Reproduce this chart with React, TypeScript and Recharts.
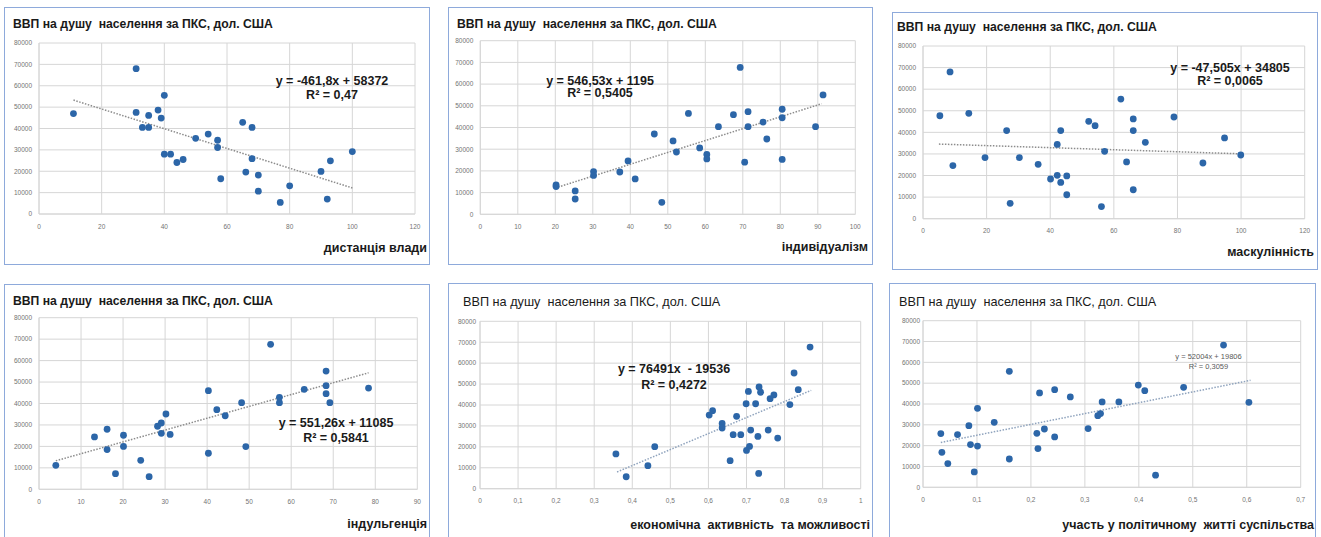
import React from 'react';
import { ScatterChart, Scatter, XAxis, YAxis, CartesianGrid, ReferenceLine } from 'recharts';

// ---------- data ----------
const yTicks = [0, 10000, 20000, 30000, 40000, 50000, 60000, 70000, 80000];
const xTicksPower = [0, 20, 40, 60, 80, 100, 120];
const xTicksIndiv = [0, 10, 20, 30, 40, 50, 60, 70, 80, 90, 100];
const xTicksMasc = [0, 20, 40, 60, 80, 100, 120];
const xTicksIndulg = [0, 10, 20, 30, 40, 50, 60, 70, 80, 90];
const xTicksEcon = [0, 0.1, 0.2, 0.3, 0.4, 0.5, 0.6, 0.7, 0.8, 0.9, 1];
const xTicksPolit = [0, 0.1, 0.2, 0.3, 0.4, 0.5, 0.6, 0.7];

const powerDistance = [
  [11, 47000], [31, 68000], [31, 47500], [33, 40500], [35, 46100], [35, 40500], [38, 48600], [39, 44900],
  [40, 55500], [40, 28000], [42, 28000], [44, 24100], [46, 25500], [50, 35400], [54, 37400], [57, 34500],
  [57, 31100], [58, 16500], [65, 42900], [66, 19600], [68, 40500], [68, 25900], [70, 18200], [70, 10700],
  [77, 5400], [80, 13200], [90, 19900], [92, 7000], [93, 24900], [100, 29200],
];
const individualism = [
  [20.2, 13600], [20.2, 12800], [25.3, 10750], [25.3, 7060], [30.2, 19700], [30.2, 17900], [37.2, 19500],
  [39.4, 24600], [41.3, 16300], [46.4, 37000], [48.4, 5500], [51.4, 33800], [52.3, 28700], [55.5, 46500],
  [58.5, 30600], [60.4, 27600], [60.4, 25500], [63.5, 40400], [67.5, 45900], [69.3, 67700], [70.5, 24000],
  [71.4, 47300], [71.4, 40400], [75.4, 42500], [76.4, 34700], [80.5, 48400], [80.5, 44500], [80.5, 25300],
  [89.4, 40400], [91.4, 55000],
];
const masculinity = [
  [5.3, 47700], [8.5, 68000], [9.4, 24600], [14.4, 48800], [19.5, 28300], [26.3, 40800], [27.4, 7100],
  [30.3, 28300], [36.2, 25200], [40.1, 18400], [42.2, 34400], [42.2, 20100], [43.3, 40800], [43.3, 16800],
  [45.2, 19800], [45.2, 11100], [52.1, 45100], [54.1, 43100], [56.1, 5600], [57.1, 31200], [62.2, 55400],
  [64.0, 26300], [66.1, 46200], [66.1, 40800], [66.1, 13400], [69.9, 35400], [78.9, 47100], [88, 25800],
  [94.8, 37400], [99.9, 29500],
];
const indulgence = [
  [4.0, 11200], [13.2, 24400], [16.2, 28000], [16.2, 18500], [18.2, 7300], [20.1, 25200], [20.1, 20000],
  [24.2, 13500], [26.2, 5900], [28.2, 29400], [29.1, 30900], [29.1, 26100], [30.2, 35100], [31.2, 25600],
  [40.3, 46000], [40.3, 16800], [42.3, 37100], [44.3, 34300], [48.2, 40400], [49.2, 19900], [55.1, 67600],
  [57.2, 42900], [57.2, 40400], [63.1, 46600], [68.3, 55100], [68.3, 48300], [68.3, 44600], [69.2, 40400],
  [78.4, 47200],
];
const economic = [
  [0.357, 16600], [0.384, 5700], [0.441, 11000], [0.459, 20100], [0.602, 35200], [0.611, 37300],
  [0.636, 31200], [0.636, 29000], [0.657, 13400], [0.665, 25800], [0.674, 34600], [0.685, 25800],
  [0.699, 40600], [0.7, 18300], [0.705, 46500], [0.708, 20200], [0.711, 28000], [0.724, 40600],
  [0.73, 25000], [0.732, 7300], [0.733, 48600], [0.737, 46100], [0.757, 28000], [0.762, 43000],
  [0.772, 44800], [0.782, 24200], [0.814, 40200], [0.825, 55300], [0.836, 47300], [0.867, 67700],
];
const political = [
  [0.033, 25800], [0.035, 16800], [0.046, 11400], [0.064, 25300], [0.085, 29600], [0.088, 20500],
  [0.095, 7400], [0.101, 37900], [0.101, 19800], [0.132, 31200], [0.16, 55700], [0.16, 13600],
  [0.211, 25900], [0.213, 18600], [0.216, 45300], [0.225, 28000], [0.244, 46900], [0.244, 24200],
  [0.273, 43400], [0.306, 28200], [0.324, 34400], [0.329, 35400], [0.332, 41000], [0.363, 41000],
  [0.399, 49100], [0.411, 46400], [0.431, 5800], [0.483, 48000], [0.557, 68300], [0.604, 40800],
];

// trend line end points
const trendPower = [[11, 53292], [100, 12192]];
const trendIndiv = [[20, 12126], [91, 50929]];
const trendMasc = [[5, 34567], [100, 30054]];
const trendIndulg = [[4, 13290], [78.4, 54304]];
const trendEcon = [[0.36, 7999], [0.87, 47011]];
const trendPolit = [[0.033, 21522], [0.607, 51372]];

const titleText = 'ВВП на душу  населення за ПКС, дол. США';
const labels = ['дистанція влади', 'індивідуалізм', 'маскулінність', 'індульгенція', 'економічна  активність  та можливості', 'участь у політичному  житті суспільства'];
const equations = [
  ['y = -461,8x + 58372', 'R² = 0,47'],
  ['y = 546,53x + 1195', 'R² = 0,5405'],
  ['y = -47,505x + 34805', 'R² = 0,0065'],
  ['y = 551,26x + 11085', 'R² = 0,5841'],
  ['y = 76491x  - 19536', 'R² = 0,4272'],
  ['y = 52004x + 19806', 'R² = 0,3059'],
];

// ---------- layout ----------
type Box = { l: number; t: number; w: number; h: number };
type Plot = { l: number; t: number; r: number; b: number };

interface PanelProps {
  box: Box;
  plot: Plot;
  data: number[][];
  trend: number[][];
  xTicks: number[];
  xMax: number;
  title: string;
  titleBold: boolean;
  titlePos: [number, number];
  eq: string[];
  eqPos: [number, number, number];
  eqSize: number;
  eqBold: boolean;
  eqColor: string;
  label: string;
  labelPos: [number, number];
  yTickMargin: number;
  trendColor: string;
}

const FONT = '"Liberation Sans", Arial, sans-serif';
const fmt = (v: number) => String(v).replace('.', ',');

const Dot = (props: any) => <circle cx={props.cx} cy={props.cy} r={3.4} fill="#2c66a8" />;

function Panel(p: PanelProps) {
  const { box, plot } = p;
  const yAxisW = 30;
  const xAxisH = 20;
  const margin = {
    top: plot.t - box.t,
    right: box.l + box.w - plot.r,
    bottom: box.t + box.h - plot.b - xAxisH,
    left: plot.l - box.l - yAxisW,
  };
  const pts = p.data.map(([x, y]) => ({ x, y }));
  const seg = p.trend.map(([x, y]) => ({ x, y }));
  return (
    <>
      <div
        style={{
          position: 'absolute', left: box.l, top: box.t, width: box.w, height: box.h,
          border: '1.5px solid #8eaadb', boxSizing: 'border-box',
        }}
      />
      <div style={{ position: 'absolute', left: box.l, top: box.t }}>
        <ScatterChart width={box.w} height={box.h} margin={margin}>
          <CartesianGrid stroke="#d6d6d6" strokeWidth={1} />
          <XAxis
            type="number" dataKey="x" domain={[0, p.xMax]} ticks={p.xTicks} interval={0}
            tickFormatter={fmt} height={xAxisH} tickLine={false} tickSize={0} tickMargin={10}
            axisLine={{ stroke: '#d6d6d6' }}
            tick={{ fontSize: 6.5, fill: '#737373', fontFamily: FONT }}
            allowDataOverflow
          />
          <YAxis
            type="number" dataKey="y" domain={[0, 80000]} ticks={yTicks} interval={0}
            width={yAxisW} tickLine={false} tickSize={0} tickMargin={p.yTickMargin}
            axisLine={{ stroke: '#d6d6d6' }}
            tick={{ fontSize: 6.5, fill: '#737373', fontFamily: FONT }}
            allowDataOverflow
          />
          <ReferenceLine
            segment={[seg[0], seg[1]]}
            stroke={p.trendColor} strokeWidth={1.5} strokeDasharray="1.5 1.5" ifOverflow="visible"
          />
          <Scatter data={pts} shape={Dot} isAnimationActive={false} />
        </ScatterChart>
      </div>
      <div
        style={{
          position: 'absolute', left: p.titlePos[0], top: p.titlePos[1] - 8, lineHeight: '16px',
          fontSize: p.titleBold ? 12.2 : 12.7, fontWeight: p.titleBold ? 'bold' : 'normal',
          fontFamily: FONT, color: '#1a1a1a', whiteSpace: 'pre',
        }}
      >
        {p.title}
      </div>
      <div
        style={{
          position: 'absolute', left: p.eqPos[0] - 100, width: 200, top: p.eqPos[1] - 8,
          textAlign: 'center', fontSize: p.eqSize, fontWeight: p.eqBold ? 'bold' : 'normal',
          fontFamily: FONT, color: p.eqColor, whiteSpace: 'pre', lineHeight: `${p.eqPos[2]}px`,
        }}
      >
        <div style={{ height: p.eqPos[2], display: 'flex', alignItems: 'center', justifyContent: 'center' }}>{p.eq[0]}</div>
        <div style={{ height: p.eqPos[2], display: 'flex', alignItems: 'center', justifyContent: 'center' }}>{p.eq[1]}</div>
      </div>
      <div
        style={{
          position: 'absolute', right: 1321 - p.labelPos[0], top: p.labelPos[1] - 8, lineHeight: '16px',
          fontSize: 12.5, fontWeight: 'bold', fontFamily: FONT, color: '#1a1a1a', whiteSpace: 'pre',
        }}
      >
        {p.label}
      </div>
    </>
  );
}

export default function App() {
  const common = { title: titleText };
  return (
    <div style={{ position: 'absolute', left: 0, top: 0, width: 1321, height: 537, background: '#fff', overflow: 'hidden' }}>
      <Panel
        {...common}
        box={{ l: 4, t: 7, w: 426, h: 258 }}
        plot={{ l: 39, t: 43, r: 415, b: 214 }}
        data={powerDistance} trend={trendPower} xTicks={xTicksPower} xMax={120}
        titleBold titlePos={[13, 24]}
        eq={equations[0]} eqPos={[332, 82, 14]} eqSize={12.5} eqBold eqColor="#1a1a1a"
        label={labels[0]} labelPos={[427, 248]} yTickMargin={7} trendColor="#8c8c8c"
      />
      <Panel
        {...common}
        box={{ l: 448, t: 7, w: 425, h: 258 }}
        plot={{ l: 480.3, t: 40.7, r: 855.3, b: 214.3 }}
        data={individualism} trend={trendIndiv} xTicks={xTicksIndiv} xMax={100}
        titleBold titlePos={[457, 24]}
        eq={equations[1]} eqPos={[600, 83, 12]} eqSize={12.5} eqBold eqColor="#1a1a1a"
        label={labels[1]} labelPos={[868, 247]} yTickMargin={7} trendColor="#8c8c8c"
      />
      <Panel
        {...common}
        box={{ l: 892, t: 12, w: 426, h: 258 }}
        plot={{ l: 923, t: 46, r: 1304.7, b: 218.7 }}
        data={masculinity} trend={trendMasc} xTicks={xTicksMasc} xMax={120}
        titleBold titlePos={[897, 27]}
        eq={equations[2]} eqPos={[1230, 69.5, 13]} eqSize={12.5} eqBold eqColor="#1a1a1a"
        label={labels[2]} labelPos={[1314, 252]} yTickMargin={7} trendColor="#8c8c8c"
      />
      <Panel
        {...common}
        box={{ l: 4, t: 284, w: 426, h: 262 }}
        plot={{ l: 39, t: 317.7, r: 417.3, b: 489.3 }}
        data={indulgence} trend={trendIndulg} xTicks={xTicksIndulg} xMax={90}
        titleBold titlePos={[13, 301]}
        eq={equations[3]} eqPos={[336, 423.5, 15]} eqSize={12.5} eqBold eqColor="#1a1a1a"
        label={labels[3]} labelPos={[427, 524]} yTickMargin={7} trendColor="#8c8c8c"
      />
      <Panel
        {...common}
        box={{ l: 448, t: 283, w: 425, h: 262 }}
        plot={{ l: 480, t: 321.3, r: 860.7, b: 488.7 }}
        data={economic} trend={trendEcon} xTicks={xTicksEcon} xMax={1}
        titleBold={false} titlePos={[463, 302]}
        eq={equations[4]} eqPos={[674, 369, 16]} eqSize={12.5} eqBold eqColor="#1a1a1a"
        label={labels[4]} labelPos={[870, 525]} yTickMargin={4} trendColor="#8fa3bd"
      />
      <Panel
        {...common}
        box={{ l: 889, t: 283, w: 427, h: 262 }}
        plot={{ l: 923, t: 320.7, r: 1300.7, b: 487.3 }}
        data={political} trend={trendPolit} xTicks={xTicksPolit} xMax={0.7}
        titleBold={false} titlePos={[899, 302]}
        eq={equations[5]} eqPos={[1208.5, 360, 10]} eqSize={7.5} eqBold={false} eqColor="#595959"
        label={labels[5]} labelPos={[1314, 525]} yTickMargin={3} trendColor="#8fa3bd"
      />
    </div>
  );
}
